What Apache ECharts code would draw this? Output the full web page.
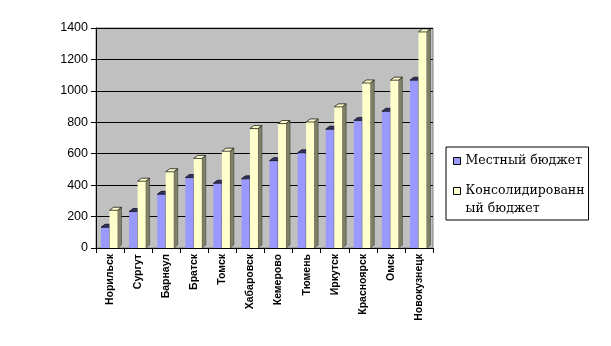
<!DOCTYPE html>
<html>
<head>
<meta charset="utf-8">
<script src="https://cdn.jsdelivr.net/npm/echarts@6/dist/echarts.min.js"></script>
<style>
html,body{margin:0;padding:0;background:#fff;}
#chart{width:611px;height:346px;}
</style>
</head>
<body>
<div id="chart"></div>
<script>
var categories = ['Норильск','Сургут','Барнаул','Братск','Томск','Хабаровск','Кемерово','Тюмень','Иркутск','Красноярск','Омск','Новокузнецк'];
var localBudget = [132, 232, 342, 448, 412, 440, 556, 606, 756, 812, 870, 1068];
var consolidatedBudget = [240, 425, 485, 570, 616, 760, 792, 802, 898, 1050, 1068, 1375];
var yTicks = [0, 200, 400, 600, 800, 1000, 1200, 1400];
var seriesNames = ['Местный бюджет', 'Консолидированный бюджет'];

var styles = [
  {front: '#9999ff', top: '#333366', side: '#4d4d80'},
  {front: '#ffffcc', top: '#ffffcc', side: '#808066'}
];

function makeRender(s) {
  return function (params, api) {
    var i = api.value(0), v = api.value(1);
    var base = api.coord([i, 0]);
    var topP = api.coord([i, v]);
    var cx = base[0];
    var x0 = cx - 9 + s * 8.5;
    var w = 8, dx = 4, dy = 3;
    var x1 = x0 + w;
    var yb = base[1], yt = topP[1];
    var st = styles[s];
    return {
      type: 'group',
      children: [
        {type: 'polygon', shape: {points: [[x1, yt], [x1 + dx, yt - dy], [x1 + dx, yb - dy], [x1, yb]]},
         style: {fill: st.side, stroke: '#333', lineWidth: 0.5}},
        {type: 'rect', shape: {x: x0, y: yt, width: w, height: yb - yt},
         style: {fill: st.front, stroke: null}},
        {type: 'polygon', shape: {points: [[x0, yt], [x0 + dx, yt - dy], [x1 + dx, yt - dy], [x1, yt]]},
         style: {fill: st.top, stroke: '#000', lineWidth: 0.7}}
      ]
    };
  };
}

var chart = echarts.init(document.getElementById('chart'));
chart.setOption({
  animation: false,
  backgroundColor: '#ffffff',
  grid: {left: 96, right: 178, top: 28, bottom: 98, show: true, backgroundColor: '#c0c0c0', borderColor: '#808080', borderWidth: 1},
  xAxis: {
    type: 'category',
    data: categories,
    boundaryGap: true,
    axisLine: {show: true, lineStyle: {color: '#000', width: 1}},
    axisTick: {show: true, length: 5, lineStyle: {color: '#000'}},
    axisLabel: {rotate: 90, interval: 0, margin: 6, fontFamily: 'Arial, Liberation Sans', fontWeight: 'bold', fontSize: 10.5, color: '#000'}
  },
  yAxis: {
    type: 'value',
    min: yTicks[0],
    max: yTicks[yTicks.length - 1],
    interval: 200,
    axisLine: {show: true, lineStyle: {color: '#000', width: 1}},
    axisTick: {show: true, length: 5, lineStyle: {color: '#000'}},
    axisLabel: {margin: 8, fontFamily: 'Arial, Liberation Sans', fontSize: 12.5, color: '#000',
      formatter: function (v) { return String(v); }},
    splitLine: {show: true, lineStyle: {color: '#000', width: 1}}
  },
  legend: {
    orient: 'vertical',
    left: 446,
    top: 147,
    padding: [5, 4, 2, 7],
    itemGap: -6,
    itemWidth: 7,
    itemHeight: 7,
    backgroundColor: '#fff',
    borderColor: '#000',
    borderWidth: 1,
    borderRadius: 0,
    icon: 'rect',
    itemStyle: {borderColor: '#000', borderWidth: 1},
    textStyle: {fontFamily: 'DejaVu Serif, serif', fontSize: 12.5, color: '#000', lineHeight: 18},
    formatter: function (name) {
      return name === seriesNames[1] ? '\nКонсолидированн\nый бюджет' : name;
    },
    data: seriesNames
  },
  series: [
    {name: seriesNames[0], type: 'custom', renderItem: makeRender(0), itemStyle: {color: styles[0].front},
     encode: {x: 0, y: 1}, data: localBudget.map(function (v, i) { return [i, v]; }), z: 2},
    {name: seriesNames[1], type: 'custom', renderItem: makeRender(1), itemStyle: {color: styles[1].front},
     encode: {x: 0, y: 1}, data: consolidatedBudget.map(function (v, i) { return [i, v]; }), z: 3}
  ]
});
</script>
</body>
</html>
